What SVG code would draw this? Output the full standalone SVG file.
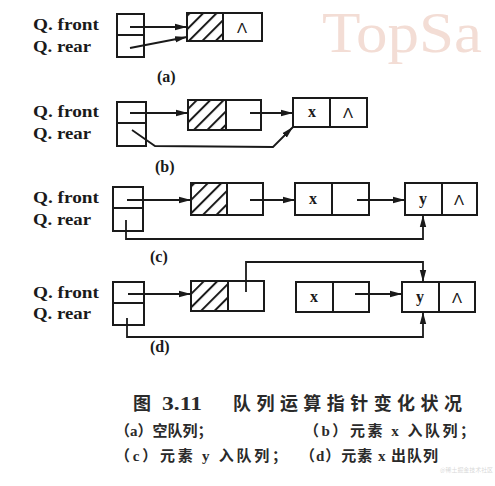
<svg xmlns="http://www.w3.org/2000/svg" width="495" height="486" viewBox="0 0 495 486">
<defs>
<pattern id="hatch" patternUnits="userSpaceOnUse" width="9.5" height="9.5" patternTransform="rotate(45)">
<line x1="1" y1="0" x2="1" y2="9.5" stroke="#1a1a1a" stroke-width="2"/>
</pattern>
<marker id="arr" markerUnits="userSpaceOnUse" markerWidth="12" markerHeight="8" refX="12" refY="4" orient="auto">
<path d="M0,0.8 L12,4 L0,7.2 z" fill="#1a1a1a"/>
</marker>
<style>
.box{fill:#fff;stroke:#1a1a1a;stroke-width:2}
.hat{fill:url(#hatch);stroke:#1a1a1a;stroke-width:2}
.div{stroke:#1a1a1a;stroke-width:2}
.ar{fill:none;stroke:#1a1a1a;stroke-width:1.8;marker-end:url(#arr)}
.lab{font-family:"Liberation Serif",serif;font-weight:bold;font-size:16px;fill:#1a1a1a}
.val{font-family:"Liberation Serif",serif;font-weight:bold;font-size:16px;fill:#1a1a1a;text-anchor:middle}
.nil{font-family:"Liberation Sans",sans-serif;font-size:15px;fill:#1a1a1a;text-anchor:middle}
.cap{font-family:"Liberation Serif","Noto Sans CJK SC",serif;font-weight:bold;font-size:18px;fill:#2a2a2a}
.sub{font-family:"Liberation Serif","Noto Sans CJK SC",serif;font-weight:bold;font-size:15px;fill:#2a2a2a}
</style>
</defs>
<rect width="495" height="486" fill="#fff"/>
<text x="322" y="52" font-family="Liberation Serif,serif" font-size="56" fill="#f3ddd5" textLength="160" lengthAdjust="spacingAndGlyphs">TopSa</text>

<!-- (a) -->
<g id="a-labels">
<text class="lab" x="33" y="30" textLength="66" lengthAdjust="spacingAndGlyphs">Q. front</text>
<text class="lab" x="33" y="52" textLength="58" lengthAdjust="spacingAndGlyphs">Q. rear</text>
<text class="lab" x="157" y="82">(a)</text>
</g>
<g id="a-q"><rect class="box" x="117" y="14" width="27" height="43"/><line class="div" x1="117" y1="35" x2="144" y2="35"/></g>
<g id="a-n1"><rect class="box" x="187" y="13" width="75" height="28"/><rect class="hat" x="187" y="13" width="36" height="28"/><text class="nil" x="242" y="33">Λ</text></g>

<!-- (b) -->
<g id="b-labels">
<text class="lab" x="33" y="117" textLength="66" lengthAdjust="spacingAndGlyphs">Q. front</text>
<text class="lab" x="33" y="139" textLength="58" lengthAdjust="spacingAndGlyphs">Q. rear</text>
<text class="lab" x="155" y="172">(b)</text>
</g>
<g id="b-q"><rect class="box" x="117" y="102" width="29" height="44"/><line class="div" x1="117" y1="123" x2="146" y2="123"/></g>
<g id="b-n1"><rect class="box" x="188" y="100" width="73" height="30"/><rect class="hat" x="188" y="100" width="38" height="30"/></g>
<g id="b-n2"><rect class="box" x="293" y="98" width="74" height="29"/><line class="div" x1="330" y1="98" x2="330" y2="127"/><text class="val" x="312" y="117">x</text><text class="nil" x="348" y="118">Λ</text></g>

<!-- (c) -->
<g id="c-labels">
<text class="lab" x="33" y="203" textLength="66" lengthAdjust="spacingAndGlyphs">Q. front</text>
<text class="lab" x="33" y="225" textLength="58" lengthAdjust="spacingAndGlyphs">Q. rear</text>
<text class="lab" x="150" y="262">(c)</text>
</g>
<g id="c-q"><rect class="box" x="113" y="187" width="30" height="44"/><line class="div" x1="113" y1="208" x2="143" y2="208"/></g>
<g id="c-n1"><rect class="box" x="191" y="183" width="72" height="32"/><rect class="hat" x="191" y="183" width="36" height="32"/></g>
<g id="c-n2"><rect class="box" x="295" y="183" width="74" height="32"/><line class="div" x1="332" y1="183" x2="332" y2="215"/><text class="val" x="313" y="204">x</text></g>
<g id="c-n3"><rect class="box" x="405" y="183" width="72" height="32"/><line class="div" x1="442" y1="183" x2="442" y2="215"/><text class="val" x="423" y="204">y</text><text class="nil" x="459" y="205">Λ</text></g>

<!-- (d) -->
<g id="d-labels">
<text class="lab" x="33" y="298" textLength="66" lengthAdjust="spacingAndGlyphs">Q. front</text>
<text class="lab" x="33" y="319" textLength="58" lengthAdjust="spacingAndGlyphs">Q. rear</text>
<text class="lab" x="150" y="352">(d)</text>
</g>
<g id="d-q"><rect class="box" x="113" y="282" width="31" height="43"/><line class="div" x1="113" y1="303" x2="144" y2="303"/></g>
<g id="d-n1"><rect class="box" x="191" y="281" width="73" height="30"/><rect class="hat" x="191" y="281" width="37" height="30"/></g>
<g id="d-n2"><rect class="box" x="296" y="282" width="73" height="30"/><line class="div" x1="333" y1="282" x2="333" y2="312"/><text class="val" x="314" y="302">x</text></g>
<g id="d-n3"><rect class="box" x="402" y="282" width="73" height="30"/><line class="div" x1="439" y1="282" x2="439" y2="312"/><text class="val" x="420" y="302">y</text><text class="nil" x="457" y="303">Λ</text></g>

<g id="connectors">
<path class="ar" d="M130,27 L187,27"/>
<path class="ar" d="M130,48 L187,37"/>
<path class="ar" d="M130,113 L188,113"/>
<path class="ar" d="M250,113 L293,113"/>
<path class="ar" d="M132,130 L155,146 L273,147 L293,127"/>
<path class="ar" d="M127,200 L191,200"/>
<path class="ar" d="M250,200 L295,200"/>
<path class="ar" d="M357,200 L405,200"/>
<path class="ar" d="M126,220 V239 H423 V215"/>
<path class="ar" d="M128,294 L191,294"/>
<path class="ar" d="M355,294 L402,294"/>
<path class="ar" d="M246,292 V262 H423 V282"/>
<path class="ar" d="M127,318 V337 H423 V312"/>
</g>

<g id="caption">
<text class="cap" x="133" y="410">图</text>
<text class="cap" x="162" y="410" textLength="40" lengthAdjust="spacingAndGlyphs">3.11</text>
<text class="cap" x="233" y="410" textLength="229" lengthAdjust="spacing">队列运算指针变化状况</text>
<text class="sub" x="115" y="436">（a）空队列；</text>
<text class="sub" x="304" y="436" textLength="171" lengthAdjust="spacing">（b）元素 x 入队列；</text>
<text class="sub" x="115" y="461" textLength="172" lengthAdjust="spacing">（c）元素 y 入队列；</text>
<text class="sub" x="300" y="461" textLength="138" lengthAdjust="spacing">（d）元素 x 出队列</text>
<text x="440" y="472" font-family="Noto Sans CJK SC,sans-serif" font-size="6" fill="#cfcfcf" fill-opacity="0.8" textLength="53" lengthAdjust="spacingAndGlyphs">@稀土掘金技术社区</text>
</g>
</svg>
